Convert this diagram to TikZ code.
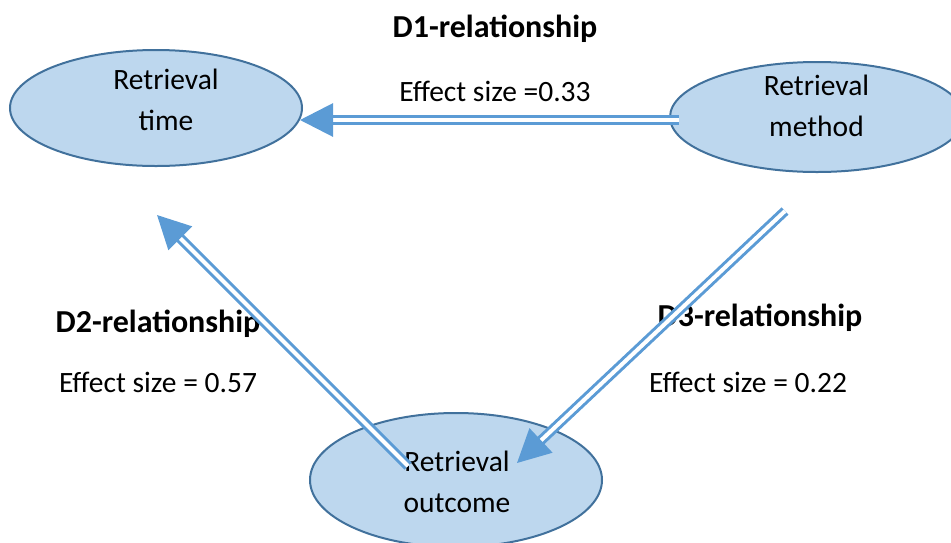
\documentclass[tikz,border=0pt]{standalone}
\usepackage{fontspec}
\setmainfont{Carlito}
\usetikzlibrary{arrows.meta,calc,shapes.geometric}
\definecolor{shapefill}{HTML}{BDD7EE}
\definecolor{shapeline}{HTML}{41719C}
\definecolor{arrowblue}{HTML}{5B9BD5}

\begin{document}
\begin{tikzpicture}[x=1pt,y=-1pt,
  oval/.style={ellipse, draw=shapeline, fill=shapefill, line width=2pt, inner sep=0pt},
  ovaltext/.style={font=\fontsize{29.5}{41}\selectfont, align=center, text=black, inner sep=0pt, anchor=base},
  relhead/.style={font=\bfseries\fontsize{32}{38}\selectfont, inner sep=0pt, anchor=base},
  relvalue/.style={font=\fontsize{29.5}{36}\selectfont, inner sep=0pt, anchor=base},
  link/.style={draw=arrowblue, double=white, double distance=4pt, line width=3pt,
               -{Triangle[length=33pt,width=33pt]}}
]
\clip (0,0) rectangle (951,542);

% the three variables
\node[oval, minimum width=292pt, minimum height=116pt] (time)    at (156,108) {};
\node[oval, minimum width=294pt, minimum height=110pt] (method)  at (817,117) {};
\node[oval, minimum width=292pt, minimum height=134pt] (outcome) at (456,480) {};

% captions inside the ovals (base anchor sits on the last line)
\node[ovaltext] (timetxt)    at (166,130)   {Retrieval\\time};
\node[ovaltext] (methodtxt)  at (816.5,136) {Retrieval\\method};
\node[ovaltext] (outcometxt) at (457,512)   {Retrieval\\outcome};

% relationship labels
\node[relhead]  (d1h) at (495,37)  {D1-relationship};
\node[relvalue] (d1v) at (495,101) {Effect size =0.33};
\node[relhead]  (d2h) at (158,332) {D2-relationship};
\node[relvalue] (d2v) at (158,392) {Effect size = 0.57};
\node[relhead]  (d3h) at (760,326) {D3-relationship};
\node[relvalue] (d3v) at (748,392) {Effect size = 0.22};

% connector end points
\coordinate (d1a) at ($(method.center)+(-138,3)$);
\coordinate (d1b) at ($(time.center)+(144,12)$);
\coordinate (d2a) at ($(outcome.center)+(-48,-14)$);
\coordinate (d2b) at ($(time.center)+(1,107)$);
\coordinate (d3a) at ($(method.center)+(-32,94)$);
\coordinate (d3b) at ($(outcome.center)+(61,-17)$);

% double-line arrows
\draw[link] (d1a) -- (d1b);
\draw[link] (d2a) -- (d2b);
\draw[link] (d3a) -- (d3b);
\end{tikzpicture}
\end{document}
